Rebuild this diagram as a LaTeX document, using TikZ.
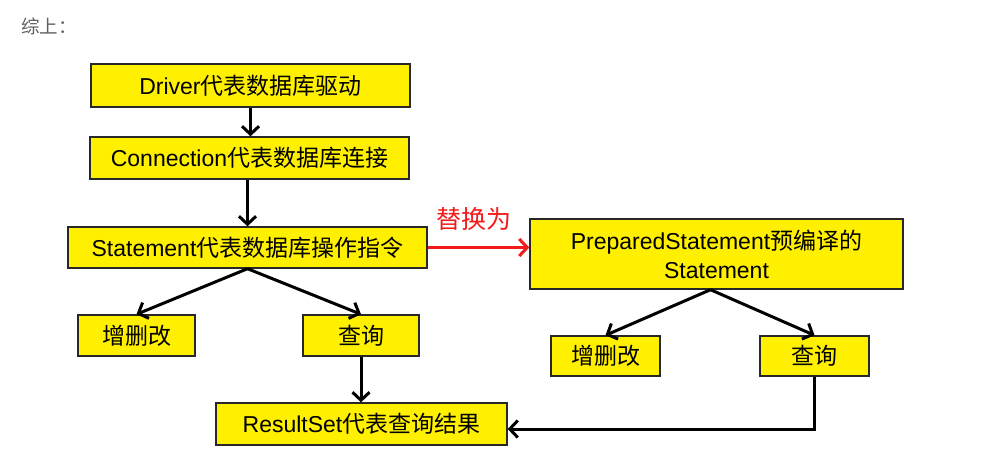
\documentclass[tikz,border=0pt]{standalone}
\usepackage{fontspec}
\setmainfont{Liberation Sans}
\newfontfamily\cjk{Noto Sans CJK SC}
\usetikzlibrary{arrows.meta,calc}
\definecolor{boxyellow}{RGB}{255,240,0}
\definecolor{boxline}{RGB}{40,40,40}
\definecolor{redarrow}{RGB}{245,25,25}
\definecolor{graytext}{RGB}{95,95,95}
\tikzset{
  ybox/.style={draw=boxline, fill=boxyellow, line width=1.4pt, inner sep=0pt,
    align=center, font=\fontsize{23}{29}\selectfont},
  conn/.style={line width=3pt, -{Straight Barb[length=8pt,width=17pt,line width=3pt]}},
  redconn/.style={draw=redarrow, line width=3pt, -{Straight Barb[length=8pt,width=17pt,line width=3pt]}},
}
\begin{document}
\begin{tikzpicture}[x=1pt,y=-1pt]
\useasboundingbox[fill=white] (0,0) rectangle (981,470);
\node[anchor=west, text=graytext, font=\cjk\fontsize{18.5}{20}\selectfont, inner sep=0pt] (title) at (21,26) {综上：};

\node[ybox, minimum width=319pt, minimum height=43pt] (drv) at (250.5,85.5) {Driver{\cjk 代表数据库驱动}};
\node[ybox, minimum width=319pt, minimum height=42pt] (con) at (249.5,158) {Connection{\cjk 代表数据库连接}};
\node[ybox, minimum width=359pt, minimum height=41pt] (st) at (247.5,247.5) {Statement{\cjk 代表数据库操作指令}};
\node[ybox, minimum width=373pt, minimum height=70pt] (ps) at (716.5,254) {PreparedStatement{\cjk 预编译的}\\Statement};
\node[ybox, minimum width=117pt, minimum height=41pt] (lcud) at (136.5,335.5) {\cjk 增删改};
\node[ybox, minimum width=116pt, minimum height=41pt] (lq) at (361,335.5) {\cjk 查询};
\node[ybox, minimum width=291pt, minimum height=42pt] (rs) at (361.5,424) {ResultSet{\cjk 代表查询结果}};
\node[ybox, minimum width=109pt, minimum height=40pt] (rcud) at (605.5,356) {\cjk 增删改};
\node[ybox, minimum width=109pt, minimum height=40pt] (rq) at (814.5,356) {\cjk 查询};

\node[text=redarrow, font=\cjk\fontsize{25}{28}\selectfont, inner sep=0pt] (rep) at (474,219) {替换为};

\coordinate (psb) at ($(ps.south)+(-6,0)$);

\draw[conn] (drv.south) -- (con.north -| drv.south);
\draw[conn] (con.south -| st.north) -- (st.north);
\draw[conn] (st.south) -- (lcud.north);
\draw[conn] (st.south) -- (lq.north);
\draw[conn] (lq.south) -- (lq.south |- rs.north);
\draw[redconn] (st.east) -- (st.east -| ps.west);
\draw[conn] (psb) -- (rcud.north);
\draw[conn] (psb) -- (rq.north);
\draw[conn] (rq.south) |- ([yshift=-5pt]rs.east);
\end{tikzpicture}
\end{document}
